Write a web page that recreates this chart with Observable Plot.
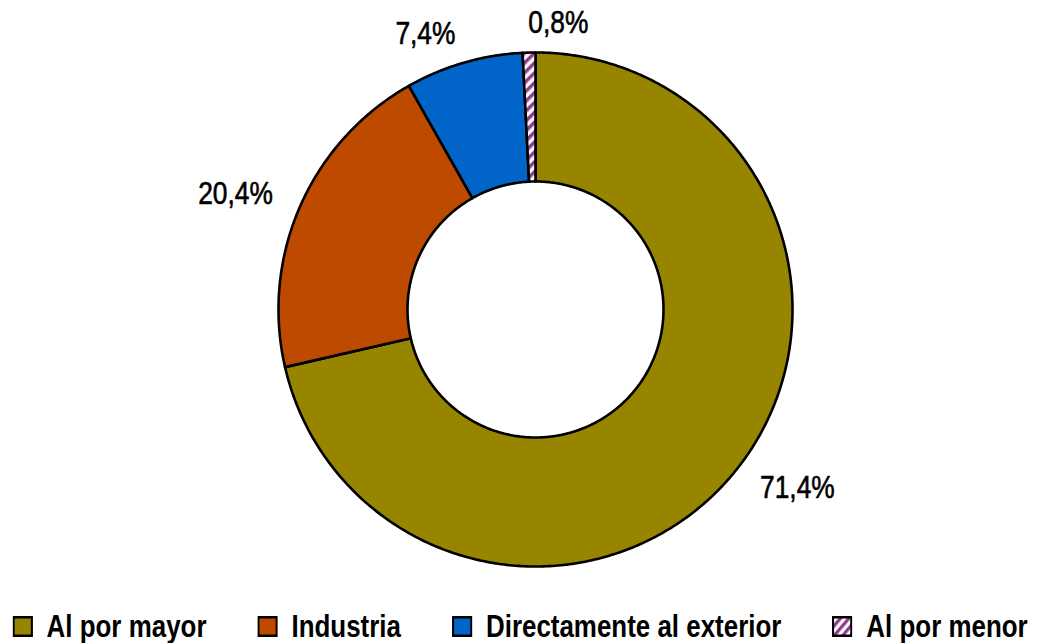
<!DOCTYPE html>
<html>
<head>
<meta charset="utf-8">
<script src="https://cdn.jsdelivr.net/npm/d3@7"></script>
<script src="https://cdn.jsdelivr.net/npm/@observablehq/plot@0.6"></script>
<style>
  body { margin: 0; background: #fff; font-family: "Liberation Sans", Arial, sans-serif; overflow: hidden; }
  #chart svg { display: block; }
  #legendWrap { width: 1040px; height: 40px; margin-top: 6px; display: flex; justify-content: center; }
  #legend { display: flex; align-items: center; height: 40px; gap: 60px; white-space: nowrap; transform: scaleX(0.85); transform-origin: center; flex: none; }
  .item { display: flex; align-items: center; font-weight: bold; font-size: 30.5px; color: #000; white-space: nowrap; }
  .item svg { margin-right: 16px; display: block; flex: none; }
</style>
</head>
<body>
<div id="chart"></div>
<div id="legendWrap"><div id="legend"></div></div>
<script>
// ---- data ----
const categories = ["Al por mayor", "Industria", "Directamente al exterior", "Al por menor"];
const shares = [71.4, 20.4, 7.4, 0.8];
const labels = ["71,4%", "20,4%", "7,4%", "0,8%"];
const colors = ["#978500", "#BE4A00", "#0064C8", "url(#hatch)"];

// ---- layout ----
const W = 1040, H = 600;
const cx = 535, cy = 309, Rpx = 257;   // centre and outer radius in px
const innerRatio = 128 / 257;
const labelRatio = (257 + 30) / 257;
const narrow = 0.85;

const data = categories.map((c, i) => ({ cat: c, share: shares[i], label: labels[i] }));
const arcs = d3.pie().sort(null).value(d => d.share)(data);

const pts = [];
for (const p of arcs) {
  const n = Math.max(6, Math.ceil((p.endAngle - p.startAngle) * 90));
  const ring = [];
  for (let i = 0; i <= n; i++) {
    const a = p.startAngle + (p.endAngle - p.startAngle) * i / n;
    ring.push({ cat: p.data.cat, x: Math.sin(a), y: Math.cos(a) });
  }
  for (let i = n; i >= 0; i--) {
    const a = p.startAngle + (p.endAngle - p.startAngle) * i / n;
    ring.push({ cat: p.data.cat, x: Math.sin(a) * innerRatio, y: Math.cos(a) * innerRatio });
  }
  ring.push(ring[0]);
  pts.push(...ring);
}

const labelPts = arcs.map(p => {
  const a = (p.startAngle + p.endAngle) / 2;
  const s = Math.sin(a);
  return {
    label: p.data.label,
    x: s * labelRatio,
    y: Math.cos(a) * labelRatio,
    anchor: s < -0.1 ? "end" : "start"
  };
});

const labelMark = anchor => Plot.text(labelPts.filter(d => d.anchor === anchor), {
  x: "x", y: "y", text: "label", textAnchor: anchor,
  fontSize: 31, fill: "#000", stroke: "#000", strokeWidth: 0.6,
  fontFamily: "'Liberation Sans', Arial, sans-serif"
});

const chart = Plot.plot({
  width: W,
  height: H,
  margin: 0,
  x: { domain: [-cx / Rpx, (W - cx) / Rpx], axis: null },
  y: { domain: [-(H - cy) / Rpx, cy / Rpx], axis: null },
  color: { type: "ordinal", domain: categories, range: colors },
  marks: [
    Plot.line(pts, { x: "x", y: "y", z: "cat", fill: "cat", stroke: "#000", strokeWidth: 2.6, strokeLinejoin: "round", curve: "linear" }),
    labelMark("start"),
    labelMark("end")
  ]
});

d3.select(chart).insert("defs", ":first-child").html(
  '<pattern id="hatch" patternUnits="userSpaceOnUse" width="7" height="7" patternTransform="rotate(45)">' +
  '<rect width="7" height="7" fill="#fff"/><rect width="3.5" height="7" fill="#8E3C8E"/></pattern>'
);
// condense the label glyphs horizontally (narrow typeface look)
d3.select(chart).selectAll("text").each(function () {
  const t = this.getAttribute("transform") || "";
  this.setAttribute("transform", t + ` scale(${narrow},1)`);
});
document.getElementById("chart").appendChild(chart);

// ---- legend ----
const legend = d3.select("#legend");
categories.forEach((c, i) => {
  const it = legend.append("div").attr("class", "item");
  const s = it.append("svg").attr("width", 24).attr("height", 21);
  s.append("rect").attr("x", 1.25).attr("y", 1.25).attr("width", 21.5).attr("height", 18.5)
    .attr("fill", colors[i]).attr("stroke", "#000").attr("stroke-width", 2.5);
  it.append("span").text(c);
});
</script>
</body>
</html>
